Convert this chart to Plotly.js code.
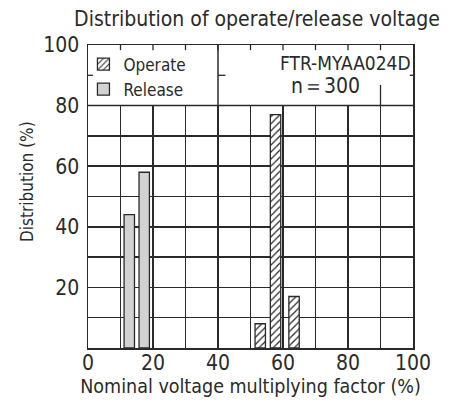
<!DOCTYPE html>
<html><head><meta charset="utf-8">
<script src="https://cdn.plot.ly/plotly-3.0.1.min.js"></script>
<style>body{margin:0;background:#fff}#c{width:461px;height:406px}</style>
</head><body><div id="c"></div>
<script>
// Data
const operateX = [53, 57.7, 63.4];
const operateY = [8, 77, 17];
const releaseX = [12.7, 17.3];
const releaseY = [44, 58];
const xTicks = [0, 20, 40, 60, 80, 100];
const yTicks = [20, 40, 60, 80, 100];
const seriesNames = ['Operate', 'Release'];
const modelText = 'FTR-MYAA024D';
const sampleText = 'n\uFF1D300';
const yTitle = 'Distribution (%)';

const F = 'DejaVu Sans Condensed, Liberation Sans Narrow, sans-serif';
const INK = '#2a2a2a';

const traces = [
  {type:'bar', name:seriesNames[0], x:operateX, y:operateY, width:3.2,
   marker:{color:'#ffffff', line:{color:INK, width:1.3},
           pattern:{shape:'/', fgcolor:INK, bgcolor:'#ffffff', size:5, solidity:0.25}}},
  {type:'bar', name:seriesNames[1], x:releaseX, y:releaseY, width:3.2,
   marker:{color:'#d2d2d2', line:{color:INK, width:1.3}}}
];

// decorative lines in the top (80-100) band
const shapes = [
  {type:'rect', xref:'x', yref:'y', x0:0, x1:100, y0:80, y1:100, layer:'between',
   fillcolor:'#ffffff', line:{width:0}},
  {type:'line', xref:'x', yref:'y', x0:0, x1:100, y0:80, y1:80, layer:'above', line:{color:INK, width:1.5}},
  {type:'line', xref:'x', yref:'y', x0:40, x1:40, y0:80, y1:100, layer:'above', line:{color:INK, width:1.5}},
  {type:'line', xref:'x', yref:'y', x0:0, x1:1.5, y0:90, y1:90, layer:'above', line:{color:INK, width:1.3}},
  {type:'line', xref:'x', yref:'y', x0:40, x1:42.3, y0:90, y1:90, layer:'above', line:{color:INK, width:1.3}},
  {type:'line', xref:'x', yref:'y', x0:99, x1:100, y0:90, y1:90, layer:'above', line:{color:INK, width:1.3}},
  {type:'line', xref:'x', yref:'y', x0:90, x1:90, y0:80, y1:86.8, layer:'above', line:{color:INK, width:1.3}}
];
for (let gx = 10; gx < 100; gx += 10) {
  shapes.push({type:'line', xref:'x', yref:'y', x0:gx, x1:gx, y0:98.3, y1:100, layer:'above',
               line:{color:INK, width:1.3}});
}

const layout = {
  width:461, height:406,
  margin:{l:88, r:48, t:45, b:58},
  paper_bgcolor:'#ffffff', plot_bgcolor:'#ffffff',
  font:{family:F, color:INK},
  title:{text:'Distribution of operate/release voltage', font:{family:F, size:21, color:INK},
         x:0.52, xref:'paper', xanchor:'center', y:0.953, yanchor:'middle'},
  showlegend:true,
  legend:{x:-0.014, y:0.995, xanchor:'left', yanchor:'top', bgcolor:'rgba(0,0,0,0)',
          font:{family:F, size:17, color:INK}, tracegroupgap:0, itemwidth:30, traceorder:'normal'},
  barmode:'overlay',
  xaxis:{range:[0,100], tickvals:xTicks, ticks:'', showgrid:true, gridcolor:INK, gridwidth:1.5,
         minor:{dtick:10, tick0:0, showgrid:true, gridcolor:INK, gridwidth:1.5},
         showline:true, mirror:true, linecolor:INK, linewidth:1.5, zeroline:false,
         tickfont:{family:F, size:21, color:INK}, ticklabelstandoff:-5,
         title:{text:'Nominal voltage multiplying factor (%)', font:{family:F, size:19.5, color:INK}, standoff:0},
         fixedrange:true},
  yaxis:{range:[0,100], tickvals:yTicks, ticks:'', showgrid:true, gridcolor:INK, gridwidth:1.5,
         minor:{dtick:10, tick0:0, showgrid:true, gridcolor:INK, gridwidth:1.5},
         showline:true, mirror:true, linecolor:INK, linewidth:1.5, zeroline:false,
         tickfont:{family:F, size:21, color:INK}, ticklabelstandoff:3,
         fixedrange:true},
  shapes:shapes,
  annotations:[
    {text:yTitle, xref:'paper', yref:'paper', x:-0.188, y:0.551, xanchor:'center', yanchor:'middle',
     textangle:-90, showarrow:false, font:{family:F, size:17, color:INK}},
    {text:modelText, xref:'x', yref:'y', x:100, y:94, xanchor:'right', yanchor:'middle',
     showarrow:false, font:{family:F, size:19, color:INK}},
    {text:sampleText, xref:'x', yref:'y', x:73, y:86.5, xanchor:'center', yanchor:'middle',
     showarrow:false, font:{family:F, size:21, color:INK}}
  ]
};

Plotly.newPlot('c', traces, layout, {staticPlot:true, displayModeBar:false});
</script></body></html>
